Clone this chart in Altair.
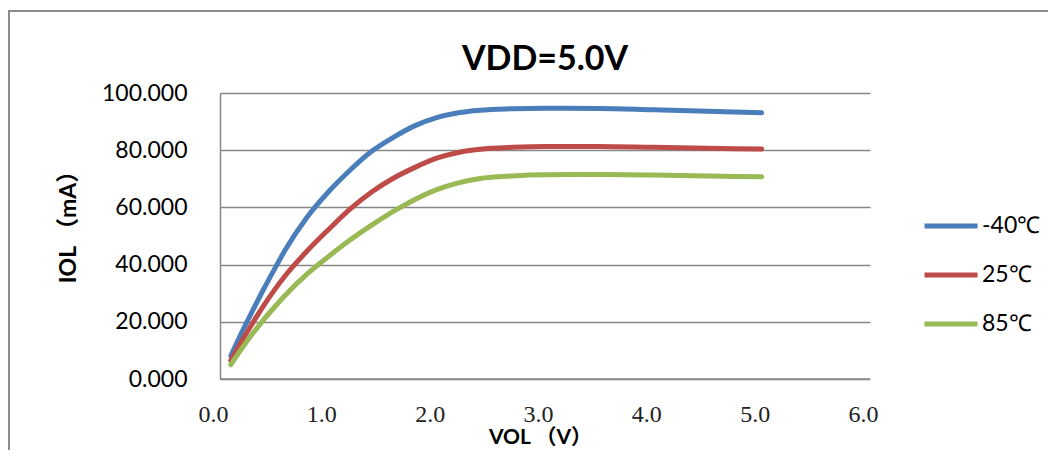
import altair as alt
import pandas as pd

vol = [0.1, 0.2, 0.3, 0.4, 0.5, 0.6, 0.8, 1.0, 1.2, 1.4, 1.6, 1.8, 2.0, 2.2, 2.4, 2.7, 3.0, 3.5, 4.0, 4.5, 5.0]
iol_m40 = [8.1, 16.2, 23.8, 31.2, 38.2, 45.0, 56.4, 65.4, 73.0, 79.6, 84.5, 88.6, 91.4, 93.1, 94.0, 94.5, 94.7, 94.6, 94.1, 93.6, 93.1]
iol_25 = [6.5, 13.2, 19.5, 25.5, 31.0, 36.0, 44.6, 52.2, 59.4, 65.4, 70.2, 74.0, 77.2, 79.2, 80.3, 81.0, 81.3, 81.3, 81.0, 80.7, 80.4]
iol_85 = [5.0, 10.6, 15.8, 20.6, 25.0, 29.2, 36.6, 42.8, 48.6, 53.8, 58.6, 62.8, 66.2, 68.6, 70.1, 71.0, 71.4, 71.5, 71.3, 71.0, 70.7]
series = ["-40℃", "25℃", "85℃"]
colors = ["#4A7EBB", "#BE4B48", "#98B954"]
x_ticks = [0, 1, 2, 3, 4, 5, 6]
y_ticks = [0, 20, 40, 60, 80, 100]

rows = []
for name, vals in zip(series, [iol_m40, iol_25, iol_85]):
    for v, i in zip(vol, vals):
        rows.append({"VOL": v, "IOL": i, "series": name})
df = pd.DataFrame(rows)

grid = "#878787"
tfont = "Lato, Noto Sans CJK SC"

lines = alt.Chart(df).mark_line(
    interpolate="monotone", strokeWidth=5, strokeCap="round", strokeJoin="round"
).encode(
    x=alt.X("VOL:Q",
            scale=alt.Scale(domain=[0, 6], nice=False),
            axis=alt.Axis(values=x_ticks, format=".1f", grid=False, ticks=False,
                          domain=False, labelFont="Liberation Serif", labelFontSize=24,
                          labelColor="#222222", labelPadding=23, tickOffset=-7,
                          labelFlush=False,
                          title="VOL （V）", titleFont=tfont, titleFontSize=21,
                          titleFontWeight="bold", titleColor="#000000",
                          titleX=320, titleY=58, titleBaseline="middle")),
    y=alt.Y("IOL:Q",
            scale=alt.Scale(domain=[0, 100], nice=False),
            axis=alt.Axis(values=y_ticks, format=".3f", grid=True, gridColor=grid,
                          gridWidth=1.5, ticks=False, domain=True, domainColor=grid,
                          domainWidth=1.5, labelFont="Lato", labelFontSize=23,
                          labelColor="#000000", labelPadding=33,
                          title="IOL （mA）", titleFont=tfont, titleFontSize=23,
                          titleFontWeight="bold", titleColor="#000000",
                          titleX=-152, titleY=128, titleBaseline="middle")),
    color=alt.Color("series:N",
                    scale=alt.Scale(domain=series, range=colors),
                    sort=series,
                    legend=alt.Legend(title=None, orient="none", legendX=702, legendY=104,
                                      symbolType="stroke", symbolSize=2809,
                                      symbolStrokeWidth=5, labelFont="Lato",
                                      labelFontSize=23, labelColor="#000000",
                                      labelOffset=2, rowPadding=8, padding=0)),
)

xaxis_line = alt.Chart(alt.Data(values=[{"v": 0}])).mark_rule(
    color=grid, strokeWidth=1.5
).encode(y=alt.Y("v:Q", scale=alt.Scale(domain=[0, 100])))

border = alt.Chart(alt.Data(values=[{}])).mark_rect(
    filled=False, stroke="#8c8c8c", strokeWidth=2
).encode(x=alt.value(-211), x2=alt.value(2000), y=alt.value(-82), y2=alt.value(1000))

chart = alt.layer(border, xaxis_line, lines).properties(
    width=650, height=286,
    title=alt.TitleParams("VDD=5.0V", font="Lato", fontSize=34, fontWeight="bold",
                          color="#000000", anchor="middle", offset=0, dy=67,
                          frame="group"),
    autosize=alt.AutoSizeParams(type="none"),
    padding={"left": 212, "top": 85, "right": 178, "bottom": 71},
    background="white",
).configure_view(stroke=None)

chart.save("out.html", embed_options={"renderer": "svg", "actions": False})
